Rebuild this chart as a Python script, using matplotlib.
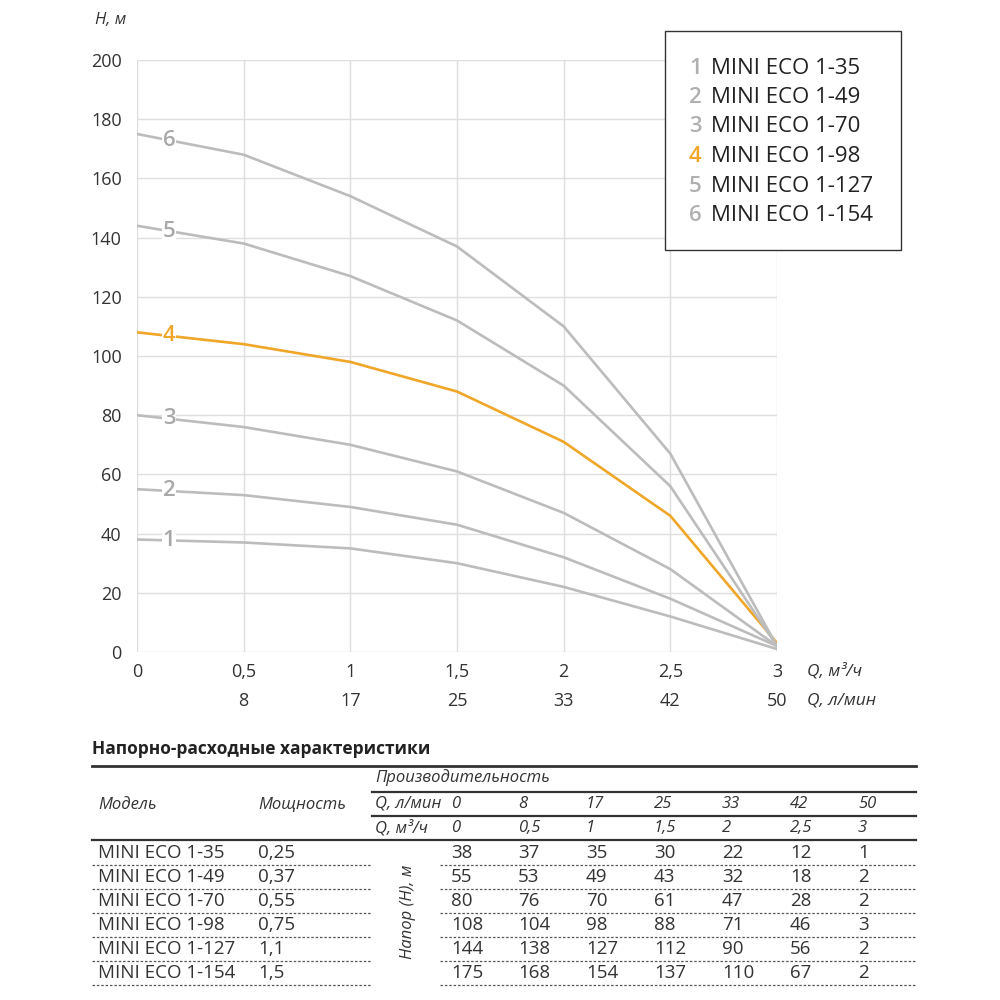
import numpy as np
import matplotlib.pyplot as plt
from matplotlib.lines import Line2D

plt.rcParams['font.family'] = ['Open Sans', 'DejaVu Sans']

# Data
q_m3h = [0, 0.5, 1, 1.5, 2, 2.5, 3]
q_lmin = [0, 8, 17, 25, 33, 42, 50]
q_m3h_labels = ['0', '0,5', '1', '1,5', '2', '2,5', '3']
models = ['MINI ECO 1-35', 'MINI ECO 1-49', 'MINI ECO 1-70',
          'MINI ECO 1-98', 'MINI ECO 1-127', 'MINI ECO 1-154']
power = ['0,25', '0,37', '0,55', '0,75', '1,1', '1,5']
head = [
    [38, 37, 35, 30, 22, 12, 1],
    [55, 53, 49, 43, 32, 18, 2],
    [80, 76, 70, 61, 47, 28, 2],
    [108, 104, 98, 88, 71, 46, 3],
    [144, 138, 127, 112, 90, 56, 2],
    [175, 168, 154, 137, 110, 67, 2],
]

GRAY = '#bcbcbc'
ORANGE = '#f0a628'
colors = [GRAY, GRAY, GRAY, ORANGE, GRAY, GRAY]
TXT = '#333333'

fig = plt.figure(figsize=(10, 10), dpi=100)
ax = fig.add_axes([0.137, 0.348, 0.64, 0.592])

for i, h in enumerate(head):
    ax.plot(q_m3h, h, color=colors[i], lw=1.9, zorder=3, solid_capstyle='round')
    xl = 0.15
    yl = np.interp(xl, q_m3h, h)
    lc = ORANGE if i == 3 else '#a8a8a8'
    ax.text(xl, yl, str(i + 1), color=lc, fontsize=16, ha='center', va='center',
            fontweight='semibold', zorder=4,
            bbox=dict(facecolor='white', edgecolor='none', pad=0.5))

ax.set_xlim(0, 3)
ax.set_ylim(0, 200)
ax.set_xticks(q_m3h)
ax.set_yticks(range(0, 201, 20))
ax.grid(True, color='#dedede', lw=1.0, zorder=0)
for s in ax.spines.values():
    s.set_visible(False)
ax.tick_params(length=0, labelsize=13, colors=TXT, pad=8)
ax.set_xticklabels(q_m3h_labels)
ax.tick_params(axis='y', pad=11)
ax.set_yticklabels([str(v) for v in range(0, 201, 20)])

# second x row (l/min)
for qm, ql in zip(q_m3h[1:], q_lmin[1:]):
    ax.text(qm, -16.5, str(ql), ha='center', va='center', fontsize=13, color=TXT)
ax.text(3.14, -6.5, 'Q, м³/ч', ha='left', va='center', fontsize=12.5,
        style='italic', color=TXT)
ax.text(3.14, -16.5, 'Q, л/мин', ha='left', va='center', fontsize=12.5,
        style='italic', color=TXT)
fig.text(0.095, 0.98, 'H, м', ha='left', va='center', fontsize=12,
         style='italic', color=TXT)

# legend box
fig.patches.append(plt.Rectangle((0.665, 0.75), 0.236, 0.219, transform=fig.transFigure,
                                 facecolor='white', edgecolor='#333333', lw=1.0, zorder=5))
for i, m in enumerate(models):
    y = 0.932 - i * 0.0295
    lc = ORANGE if i == 3 else '#b0b0b0'
    fig.text(0.689, y, str(i + 1), color=lc, fontsize=16, ha='left', va='center',
             fontweight='semibold', zorder=6)
    fig.text(0.711, y, m, color='#222222', fontsize=16, ha='left', va='center', zorder=6)

# table
def hline(y, x0, x1, lw=1.5, ls='-', color='#333333'):
    fig.add_artist(Line2D([x0, x1], [y, y], transform=fig.transFigure,
                          color=color, lw=lw, ls=ls))

fig.text(0.092, 0.251, 'Напорно-расходные характеристики', fontsize=12.5,
         fontweight='bold', color='#222222', ha='left', va='center')
hline(1 - 0.766, 0.092, 0.916, lw=2.0)
fig.text(0.375, 1 - 0.778, 'Производительность', fontsize=12, style='italic',
         color=TXT, ha='left', va='center')
hline(1 - 0.792, 0.372, 0.916, lw=1.6)
fig.text(0.098, 1 - 0.805, 'Модель', fontsize=12, style='italic', color=TXT,
         ha='left', va='center')
fig.text(0.258, 1 - 0.805, 'Мощность', fontsize=12, style='italic', color=TXT,
         ha='left', va='center')

col_x = [0.451, 0.518, 0.586, 0.654, 0.722, 0.790, 0.858]
fig.text(0.375, 1 - 0.804, 'Q, л/мин', fontsize=12, style='italic', color=TXT,
         ha='left', va='center')
fig.text(0.375, 1 - 0.828, 'Q, м³/ч', fontsize=12, style='italic', color=TXT,
         ha='left', va='center')
for cx, a, b in zip(col_x, q_lmin, q_m3h_labels):
    fig.text(cx, 1 - 0.804, str(a), fontsize=12, style='italic', color=TXT,
             ha='left', va='center')
    fig.text(cx, 1 - 0.828, b, fontsize=12, style='italic', color=TXT,
             ha='left', va='center')
hline(1 - 0.816, 0.372, 0.916, lw=1.6)
hline(1 - 0.840, 0.092, 0.916, lw=1.6)

for r, (m, p, h) in enumerate(zip(models, power, head)):
    y = 1 - (0.853 + r * 0.024)
    fig.text(0.098, y, m, fontsize=13.5, color=TXT, ha='left', va='center')
    fig.text(0.258, y, p, fontsize=13.5, color=TXT, ha='left', va='center')
    for cx, v in zip(col_x, h):
        fig.text(cx, y, str(v), fontsize=13.5, color=TXT, ha='left', va='center')
    yl = 1 - (0.865 + r * 0.024)
    hline(yl, 0.092, 0.372, lw=0.9, ls=(0, (2, 1.5)), color='#555555')
    hline(yl, 0.44, 0.916, lw=0.9, ls=(0, (2, 1.5)), color='#555555')

fig.text(0.408, 1 - 0.912, 'Напор (Н), м', fontsize=12, style='italic', color=TXT,
         ha='center', va='center', rotation=90)

fig.savefig('out.png', dpi=100, facecolor='white')
